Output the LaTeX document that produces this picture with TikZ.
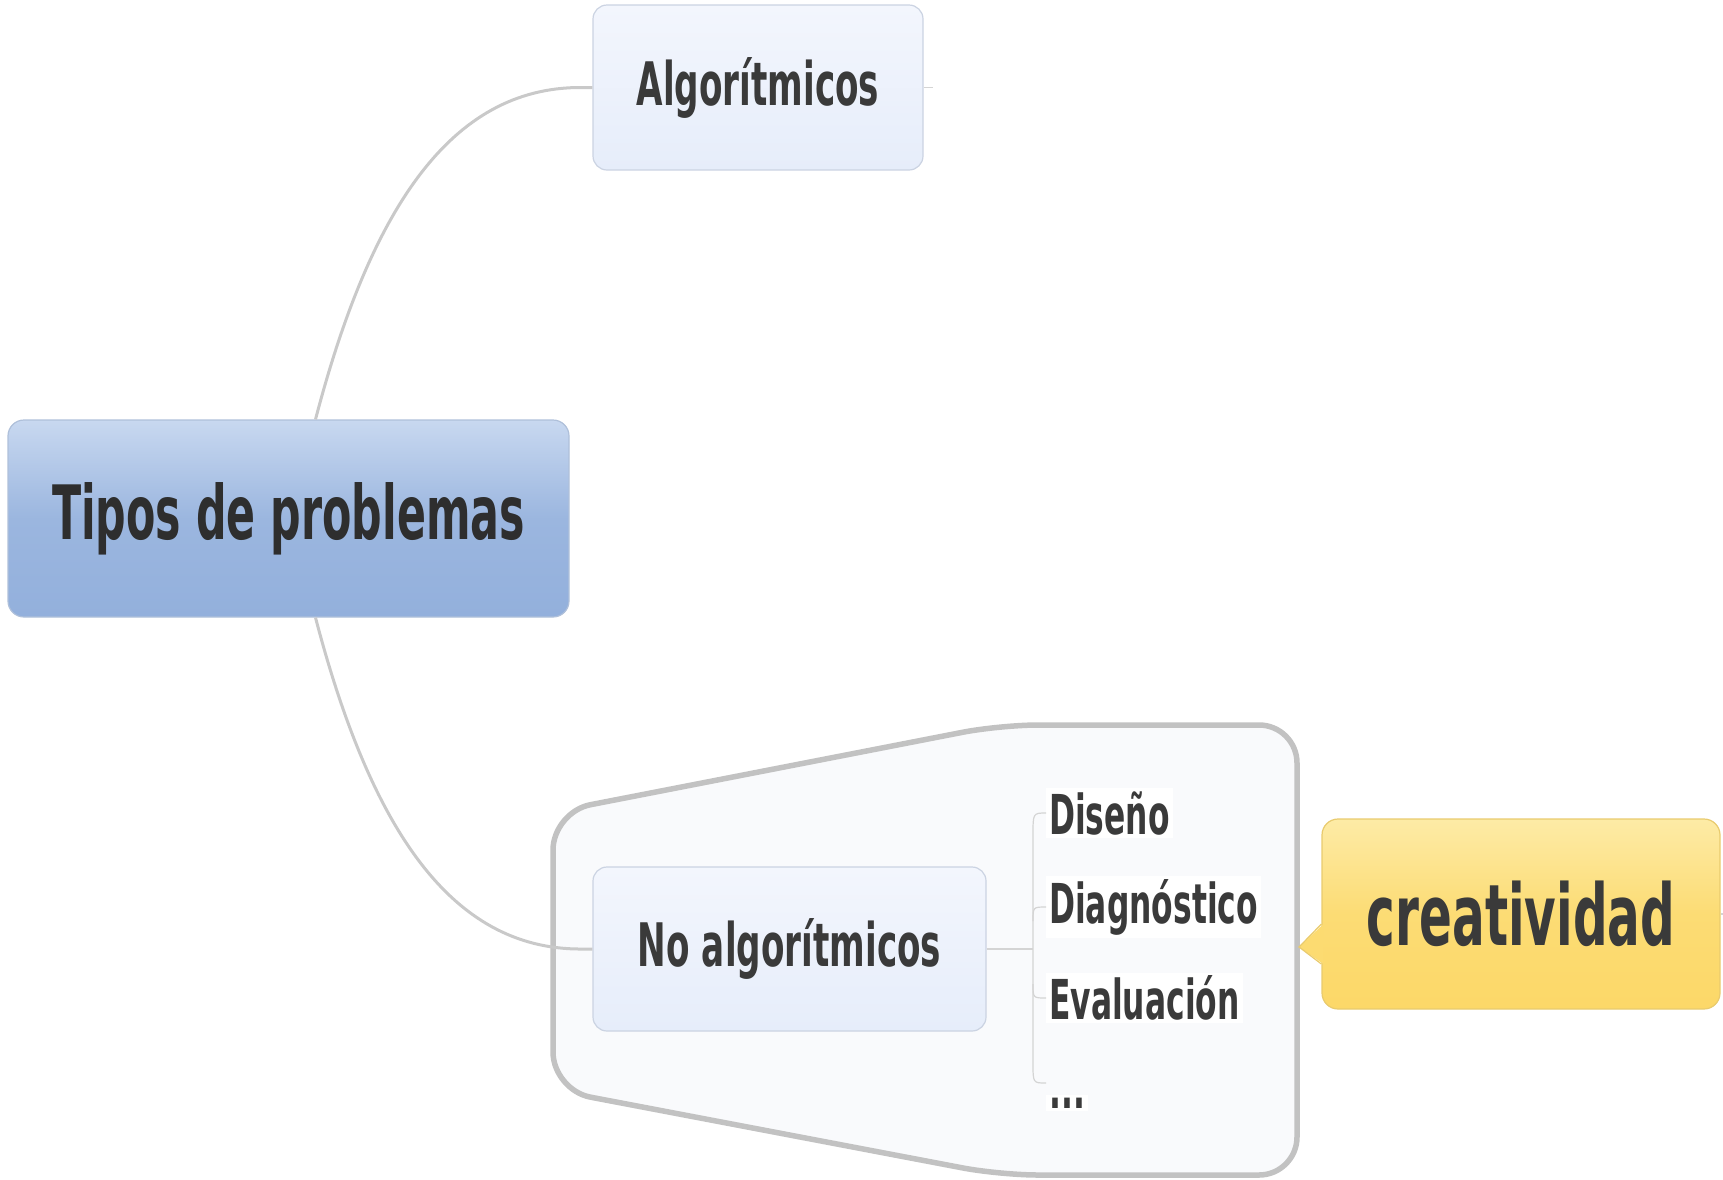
\documentclass[tikz,border=0pt]{standalone}
\usepackage{fontspec}
\usepackage{xcolor}
\usepackage{tikz}
\usetikzlibrary{calc}
\newfontfamily\mapfont{DejaVu Sans}[FakeStretch=0.57]
\newcommand{\mapsize}[1]{\fontsize{#1}{#1}\selectfont}
\definecolor{inkgray}{HTML}{3A3A3A}
\definecolor{rootTop}{HTML}{C8D8F0}
\definecolor{rootBot}{HTML}{93B0DC}
\definecolor{rootLine}{HTML}{AFC0DA}
\definecolor{subTop}{HTML}{F3F6FD}
\definecolor{subBot}{HTML}{E6EDFA}
\definecolor{subLine}{HTML}{CBD3E2}
\definecolor{ideaTop}{HTML}{FDEBA6}
\definecolor{ideaBot}{HTML}{FCD868}
\definecolor{ideaLine}{HTML}{E9CB6E}
\definecolor{branchGray}{HTML}{C9C9C9}
\definecolor{zoneFill}{HTML}{F9FAFC}
\definecolor{zoneLine}{HTML}{C2C2C2}

\begin{document}
\begin{tikzpicture}[x=1pt,y=-1pt,
		rootbox/.style={rounded corners=16pt,draw=rootLine,line width=1.2pt,top color=rootTop,bottom color=rootBot,middle color=rootBot!85!rootTop,inner sep=0pt,text=inkgray!80!black,font=\mapfont\bfseries},
		subbox/.style={rounded corners=14pt,draw=subLine,line width=1.2pt,top color=subTop,bottom color=subBot,inner sep=0pt,text=inkgray,font=\mapfont\bfseries},
		ideabox/.style={rounded corners=16pt,draw=ideaLine,line width=1.2pt,top color=ideaTop,bottom color=ideaBot,middle color=ideaBot!80!ideaTop,inner sep=0pt,text=inkgray,font=\mapfont\bfseries},
		item/.style={anchor=west,fill=white,inner sep=3pt,text=inkgray,font=\mapfont\bfseries\mapsize{55}},
		branch/.style={draw=branchGray,line width=3pt},
		twig/.style={draw=branchGray!80,line width=1.2pt}]
		\useasboundingbox (0,0) rectangle (1723,1179);
		% boundary round the non-algorithmic branch
		\draw[fill=zoneFill,draw=zoneLine,line width=5.5pt,rounded corners=38pt] (553,812) -- (1000,725) -- (1297,725) -- (1297,1175) -- (1000,1175) -- (553,1090) -- cycle;
		% topics
		\node[rootbox,minimum width=561pt,minimum height=197pt] (root) at (288.5,518.5) {\raisebox{8pt}{\mapsize{75}Tipos de problemas}};
		\node[subbox,minimum width=330pt,minimum height=165pt] (alg) at (758,87.5) {\mapsize{60}Algorítmicos};
		\node[subbox,minimum width=393pt,minimum height=164pt] (noalg) at (789.5,949) {\mapsize{60}No algorítmicos};
		\node[item] (dis) at (1046,813) {Diseño};
		\node[item] (dia) at (1046,907) {Diagnóstico};
		\node[item] (eva) at (1046,998) {Evaluación};
		\node[item] (dots) at (1046,1103) {...};
		\node[ideabox,minimum width=398pt,minimum height=190pt] (creat) at (1521,914) {\mapsize{85}creatividad};
		% callout pointer
		\coordinate (tip) at (1299,947);
		\fill[ideaBot!85!ideaTop] ($(creat.west)+(2,10)$) -- (tip) -- ($(creat.west)+(2,50)$) -- cycle;
		\draw[ideaLine,line width=1.2pt] ($(creat.west)+(0,10)$) -- (tip) -- ($(creat.west)+(0,50)$);
		% branches
		\draw[branch] ($(root.north)+(27,0)$) .. controls +(55,-210) and +(-130,0) .. ($(alg.west)+(-12,0)$) -- (alg.west);
		\draw[branch] ($(root.south)+(27,0)$) .. controls +(55,210) and +(-130,0) .. ($(noalg.west)+(-12,0)$) -- (noalg.west);
		\draw[twig] (alg.east) -- ++(9,0);
		\draw[twig] (creat.east) -- ++(3,0);
		% bracket to the items
		\coordinate (fork) at (1033,949);
		\draw[twig] (noalg.east) -- (fork);
		\draw[twig] (dis.west) .. controls (fork |- dis.west) .. ($(fork |- dis.west)+(0,22)$) -- ($(fork |- dots.west)+(0,-40)$) .. controls ($(fork |- dots.west)+(0,-20)$) .. ($(dots.west)+(0,-20)$);
		\draw[twig] ($(fork |- dia.west)+(0,14)$) .. controls (fork |- dia.west) .. (dia.west);
		\draw[twig] ($(fork |- eva.west)+(0,-14)$) .. controls (fork |- eva.west) .. (eva.west);
\end{tikzpicture}
\end{document}
